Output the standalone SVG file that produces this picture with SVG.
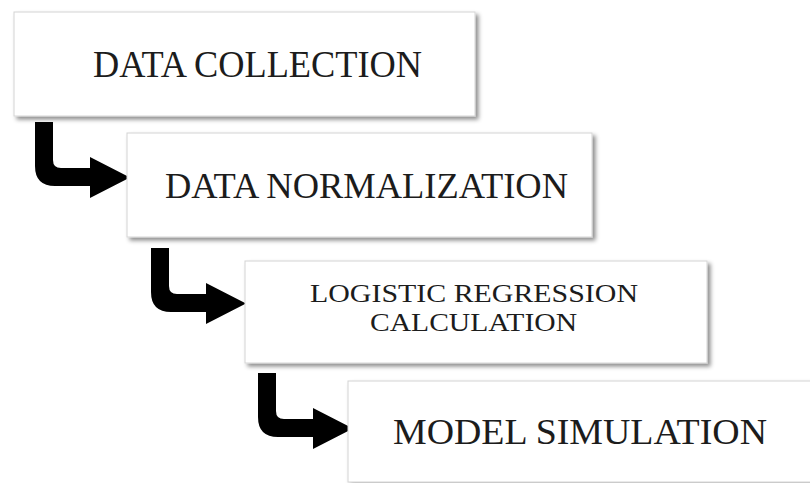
<svg xmlns="http://www.w3.org/2000/svg" xmlns:xlink="http://www.w3.org/1999/xlink" width="810" height="483" viewBox="0 0 810 483">
  <style>
    .box { fill: #ffffff; stroke: #d4d4d4; stroke-width: 1; filter: url(#shadow); }
    .label { font-family: "Liberation Serif", "Times New Roman", serif; fill: #1c1c1c; }
    .bend { fill: #000000; }
  </style>
  <defs>
    <filter id="shadow" x="-5%" y="-10%" width="115%" height="130%">
      <feDropShadow dx="3" dy="3" stdDeviation="2" flood-color="#000000" flood-opacity="0.45"/>
    </filter>
    <!-- bent arrow: down, then right into the next step -->
    <path id="bend" class="bend" d="M0,0 H18 V38 Q18,46 26,46 H55 V35 L95,55.5 L55,76 V64 H20 Q0,64 0,44 Z"/>
  </defs>

  <rect width="810" height="483" fill="#ffffff"/>

  <g id="connectors">
    <use xlink:href="#bend" href="#bend" transform="translate(35,122)"/>
    <use xlink:href="#bend" href="#bend" transform="translate(151,248)"/>
    <use xlink:href="#bend" href="#bend" transform="translate(258,373)"/>
  </g>

  <g id="data-collection">
    <rect class="box" x="14" y="12" width="461" height="104"/>
    <text class="label" x="93" y="77" font-size="38" textLength="329" lengthAdjust="spacingAndGlyphs">DATA COLLECTION</text>
  </g>

  <g id="data-normalization">
    <rect class="box" x="127" y="133" width="465" height="104"/>
    <text class="label" x="165" y="198" font-size="36" textLength="403" lengthAdjust="spacingAndGlyphs">DATA NORMALIZATION</text>
  </g>

  <g id="logistic-regression">
    <rect class="box" x="245" y="261" width="462" height="102"/>
    <text class="label" x="310" y="302" font-size="25" textLength="328" lengthAdjust="spacingAndGlyphs">LOGISTIC REGRESSION</text>
    <text class="label" x="370" y="331" font-size="25" textLength="207" lengthAdjust="spacingAndGlyphs">CALCULATION</text>
  </g>

  <g id="model-simulation">
    <rect class="box" x="348" y="381" width="480" height="101"/>
    <text class="label" x="393" y="444" font-size="35" textLength="374" lengthAdjust="spacingAndGlyphs">MODEL SIMULATION</text>
  </g>
</svg>
